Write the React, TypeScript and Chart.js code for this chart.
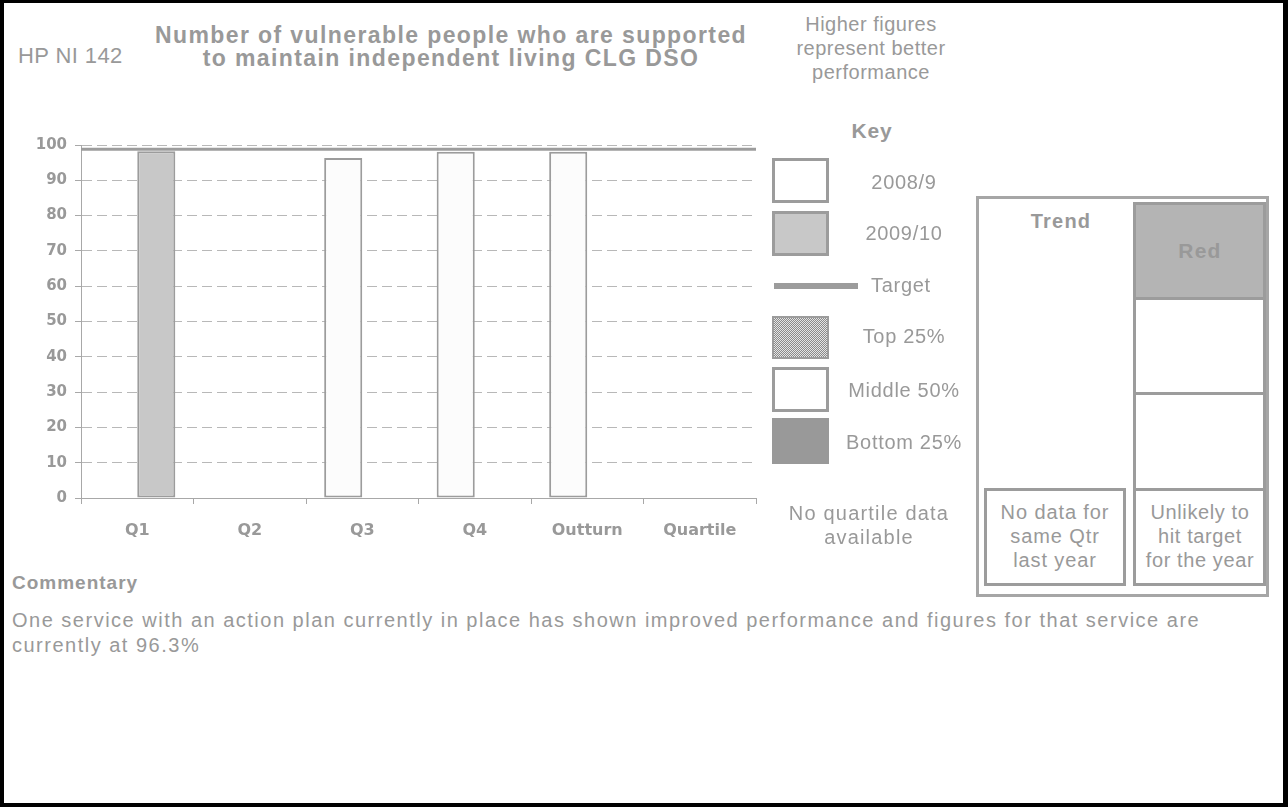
import React, { useEffect, useRef } from "react";
import { Chart, registerables } from "chart.js";

Chart.register(...registerables);

// ---- data ----
const categories = ["Q1", "Q2", "Q3", "Q4", "Outturn", "Quartile"];
const values2008 = [null, null, 96.3, 98.1, 98.1, null];
const values2009 = [98.2, null, null, null, null, null];
const targetValue = 98.8;
const yMin = 0;
const yMax = 100;
const yStep = 10;
const seriesNames = ["2008/9", "2009/10"];
const keyLabels = ["2008/9", "2009/10", "Target", "Top 25%", "Middle 50%", "Bottom 25%"];
const titleLines = ["Number of vulnerable people who are supported", "to maintain independent living CLG DSO"];
const noteLines = ["Higher figures", "represent better", "performance"];
const quartileLines = ["No quartile data", "available"];
const trendLeftLines = ["No data for", "same Qtr", "last year"];
const trendRightLines = ["Unlikely to", "hit target", "for the year"];
const commentaryLines = [
  "One service with an action plan currently in place has shown improved performance and figures for that service are",
  "currently at 96.3%",
];

const GRAY = "#999999";
const LINE = "#9c9c9c";
const FONT = '"Liberation Sans", Arial, Helvetica, sans-serif';
const TICK_FONT = '"DejaVu Sans", "Liberation Sans", sans-serif';

const targetLinePlugin = {
  id: "targetLine",
  afterDatasetsDraw(chart: any) {
    const { ctx, chartArea, scales } = chart;
    const y = scales.y.getPixelForValue(targetValue);
    ctx.save();
    ctx.strokeStyle = LINE;
    ctx.lineWidth = 3;
    ctx.beginPath();
    ctx.moveTo(chartArea.left, y);
    ctx.lineTo(chartArea.right, y);
    ctx.stroke();
    ctx.restore();
  },
};

type TProps = {
  x: number;
  y: number;
  w?: number;
  align?: "left" | "center";
  size?: number;
  bold?: boolean;
  ls?: number;
  lh?: number;
  lines: string[];
  color?: string;
};

function T({ x, y, w = 400, align = "left", size = 20, bold = false, ls = 0, lh = 24, lines, color = GRAY }: TProps) {
  const left = align === "center" ? x - w / 2 : x;
  return (
    <div
      style={{
        position: "absolute",
        left,
        top: y - lh / 2,
        width: w,
        textAlign: align,
        fontFamily: FONT,
        fontSize: size,
        fontWeight: bold ? "bold" : "normal",
        letterSpacing: ls,
        lineHeight: lh + "px",
        color,
        whiteSpace: "pre",
      }}
    >
      {lines.map((l, i) => (
        <div key={i}>{l}</div>
      ))}
    </div>
  );
}

function Box({ x, y, w, h, bw = 3, bg = "#fff", bc = LINE }: any) {
  return (
    <div
      style={{
        position: "absolute",
        left: x,
        top: y,
        width: w,
        height: h,
        boxSizing: "border-box",
        border: bw ? `${bw}px solid ${bc}` : "none",
        background: bg,
      }}
    />
  );
}

export default function App() {
  const canvasRef = useRef<HTMLCanvasElement>(null);

  useEffect(() => {
    const canvas = canvasRef.current;
    if (!canvas) return;
    const chart = new Chart(canvas, {
      type: "bar",
      data: {
        labels: categories,
        datasets: [
          {
            label: seriesNames[0],
            data: values2008 as any,
            backgroundColor: "#fcfcfc",
            borderColor: LINE,
            borderWidth: 2,
            borderSkipped: false,
            categoryPercentage: 0.677,
            barPercentage: 1,
          },
          {
            label: seriesNames[1],
            data: values2009 as any,
            backgroundColor: "#c8c8c8",
            borderColor: LINE,
            borderWidth: 2,
            borderSkipped: false,
            categoryPercentage: 0.677,
            barPercentage: 1,
          },
        ],
      },
      options: {
        animation: false,
        responsive: false,
        maintainAspectRatio: false,
        devicePixelRatio: 1,
        layout: { padding: { top: 20, right: 24, left: 0, bottom: 0 } },
        plugins: {
          legend: { display: false },
          tooltip: { enabled: false },
          title: { display: false },
        },
        scales: {
          x: {
            grid: {
              display: true,
              offset: true,
              drawOnChartArea: false,
              drawTicks: true,
              tickLength: 6,
              color: "#a8a8a8",
            },
            border: { display: true, color: "#a8a8a8", width: 1 },
            ticks: {
              color: GRAY,
              font: { family: TICK_FONT, weight: "bold", size: 16 },
              padding: 17,
              autoSkip: false,
              maxRotation: 0,
            },
            afterFit: (s: any) => {
              s.height = 72;
            },
          },
          y: {
            min: yMin,
            max: yMax,
            ticks: {
              stepSize: yStep,
              color: GRAY,
              font: { family: TICK_FONT, weight: "bold", size: 15 },
              padding: 8,
            },
            grid: {
              color: "#b8b8b8",
              lineWidth: 1,
              tickLength: 6,
              tickColor: "#a8a8a8",
            },
            border: { display: true, color: "#a8a8a8", width: 1, dash: [10, 5] },
            afterFit: (s: any) => {
              s.width = 81;
            },
          },
        },
      } as any,
      plugins: [targetLinePlugin],
    });
    return () => chart.destroy();
  }, []);

  return (
    <div
      style={{
        position: "absolute",
        left: 0,
        top: 0,
        width: 1288,
        height: 810,
        background: "#fff",
        overflow: "hidden",
      }}
    >
      {/* outer black frame */}
      <div
        style={{
          position: "absolute",
          left: 0,
          top: 0,
          width: 1288,
          height: 807,
          boxSizing: "border-box",
          borderStyle: "solid",
          borderColor: "#000",
          borderWidth: "3px 5px 4px 4px",
        }}
      />

      <canvas
        ref={canvasRef}
        width={780}
        height={445}
        style={{ position: "absolute", left: 0, top: 125, width: 780, height: 445 }}
      />

      {/* header */}
      <T x={18} y={56} size={22} ls={0.4} lh={24} lines={["HP NI 142"]} />
      <T x={451} y={35} w={720} align="center" size={23} bold ls={1.4} lh={23} lines={titleLines} />
      <T x={871} y={24} w={220} align="center" size={20} ls={0.5} lh={24} lines={noteLines} />

      {/* key */}
      <T x={872} y={131} w={120} align="center" size={21} bold ls={0.8} lh={22} lines={["Key"]} />
      <Box x={772} y={158} w={57} h={45} />
      <Box x={772} y={211} w={57} h={45} bg="#c8c8c8" />
      <div style={{ position: "absolute", left: 774, top: 283, width: 84, height: 6, background: LINE }} />
      <Box
        x={772}
        y={316}
        w={57}
        h={43}
        bw={2}
        bg="repeating-conic-gradient(#8a8a8a 0% 25%, #e4e4e4 0% 50%) 0 0 / 2px 2px"
      />
      <Box x={772} y={367} w={57} h={45} />
      <Box x={772} y={418} w={57} h={46} bw={0} bg="#999999" />
      <T x={904} y={182} w={160} align="center" size={20} ls={0.7} lh={22} lines={[keyLabels[0]]} />
      <T x={904} y={233} w={160} align="center" size={20} ls={0.7} lh={22} lines={[keyLabels[1]]} />
      <T x={871} y={285} w={160} size={20} ls={0.7} lh={22} lines={[keyLabels[2]]} />
      <T x={904} y={336} w={160} align="center" size={20} ls={0.7} lh={22} lines={[keyLabels[3]]} />
      <T x={904} y={390} w={160} align="center" size={20} ls={0.7} lh={22} lines={[keyLabels[4]]} />
      <T x={904} y={442} w={160} align="center" size={20} ls={0.7} lh={22} lines={[keyLabels[5]]} />

      <T x={869} y={513} w={220} align="center" size={20} ls={1.2} lh={24} lines={quartileLines} />

      {/* trend panel */}
      <Box x={976} y={196} w={293} h={401} bw={3} bc="#a6a6a6" />
      <Box x={1133} y={202} w={133} h={98} bg="#b4b4b4" />
      <Box x={1133} y={297} w={133} h={98} />
      <Box x={1133} y={392} w={133} h={99} />
      <Box x={1133} y={488} w={133} h={98} />
      <Box x={984} y={488} w={142} h={98} />
      <T x={1061} y={221} w={140} align="center" size={20} bold ls={1.2} lh={22} lines={["Trend"]} />
      <T x={1200} y={251} w={130} align="center" size={21} bold ls={1.2} lh={22} lines={["Red"]} />
      <T x={1055} y={512} w={140} align="center" size={20} ls={0.9} lh={24} lines={trendLeftLines} />
      <T x={1200} y={512} w={130} align="center" size={20} ls={0.6} lh={24} lines={trendRightLines} />

      {/* commentary */}
      <T x={12} y={583} w={400} size={19} bold ls={1.0} lh={24} lines={["Commentary"]} />
      <T x={12} y={620} w={1270} size={20} ls={1.5} lh={25} lines={commentaryLines} />
    </div>
  );
}
